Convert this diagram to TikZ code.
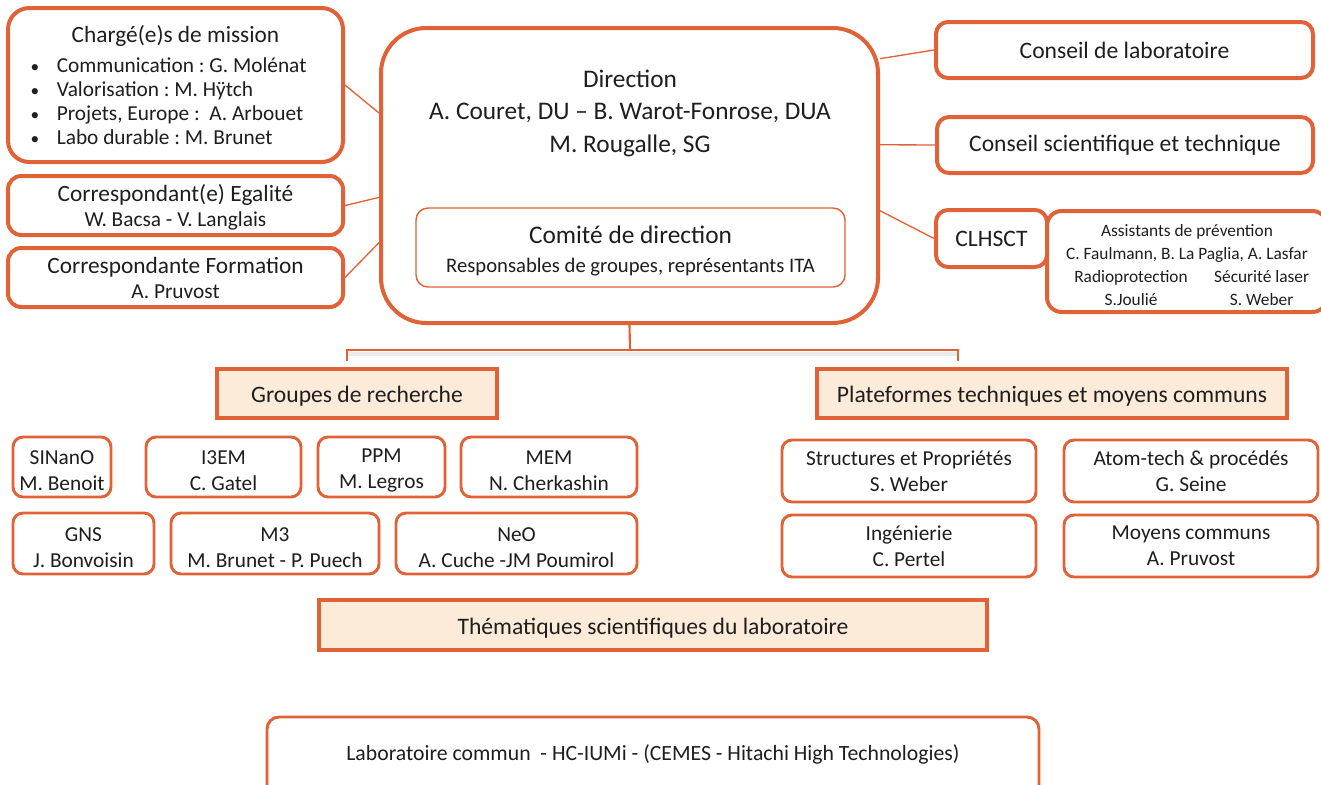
\documentclass[tikz,border=0pt]{standalone}
\usepackage{fontspec}
\setmainfont{Carlito}
\definecolor{orng}{RGB}{224,98,54}
\definecolor{peach}{RGB}{253,235,217}
\definecolor{txt}{RGB}{30,30,30}
\frenchspacing
\newcommand{\fsz}[2]{\fontsize{#1}{#2}\selectfont}
\newcommand{\bl}[1]{\makebox[218pt][l]{\makebox[7pt][c]{\fsz{13}{18}\textbullet}\hspace{13pt}#1}}
\newcommand{\lft}[1]{\rule{0pt}{#1}}
\tikzset{
  obox/.style={draw=orng, line width=3pt, fill=white, align=center, inner sep=0pt, text=txt},
  gbox/.style={draw=orng, line width=2.2pt, rounded corners=7.5pt, fill=white, align=center, inner sep=0pt, text=txt, font=\fsz{16}{19.5}},
  hbox/.style={draw=orng, line width=3pt, fill=peach, align=center, inner sep=0pt, text=txt, font=\fsz{17.7}{20}, text height=15.5pt, text depth=2pt},
  conn/.style={draw=orng, line width=1pt},
  tree/.style={draw=orng, line width=1.6pt},
}
\begin{document}
\begin{tikzpicture}[x=0.75pt,y=-0.75pt]
\useasboundingbox (0,0) rectangle (1321,785);
\clip (0,0) rectangle (1321,785);

% left boxes
\node[obox, rounded corners=16pt, minimum width={335*0.75pt}, minimum height={154*0.75pt}, font=\fsz{16}{18}] (charge) at (175.5,85)
  {{\fsz{17.5}{18}Chargé(e)s de mission}\\[4pt]
   \bl{Communication : G. Molénat}\\
   \bl{Valorisation : M. Hÿtch}\\
   \bl{Projets, Europe :\ \ A. Arbouet}\\
   \bl{Labo durable : M. Brunet}};
\node[obox, rounded corners=10pt, minimum width={335*0.75pt}, minimum height={59*0.75pt}, font=\fsz{17.5}{18.75}] (egal) at (175.5,205.5)
  {\lft{15pt}Correspondant(e) Egalité\\{\fsz{16}{18.75}W. Bacsa - V. Langlais}};
\node[obox, rounded corners=10pt, minimum width={335*0.75pt}, minimum height={59*0.75pt}, font=\fsz{17.5}{18.75}] (form) at (175.5,277.5)
  {Correspondante Formation\\{\fsz{16}{18.75}A. Pruvost}};

% direction
\node[obox, rounded corners=34pt, minimum width={497*0.75pt}, minimum height={295*0.75pt}] (dir) at (629.5,175.5) {};
\node[align=center, text=txt, font=\fsz{19}{24.4}, inner sep=0pt] (dirtxt) at (630,113)
  {Direction\\A. Couret, DU -- B. Warot-Fonrose, DUA\\M. Rougalle, SG};
\node[obox, line width=1.1pt, rounded corners=9pt, minimum width={429*0.75pt}, minimum height={79*0.75pt}, font=\fsz{19}{21.75}] (comite) at (630.5,247.5)
  {\lft{19pt}Comité de direction\\{\fsz{15.5}{21.75}Responsables de groupes, représentants ITA}};

% right boxes
\node[obox, rounded corners=9pt, minimum width={377*0.75pt}, minimum height={56*0.75pt}, font=\fsz{17.7}{20}] (cl) at (1124.5,50) {Conseil de laboratoire};
\node[obox, rounded corners=9pt, minimum width={376*0.75pt}, minimum height={56*0.75pt}, font=\fsz{17.7}{20}] (cst) at (1125,145) {Conseil scientifique et technique};
\node[obox, rounded corners=9pt, minimum width={111*0.75pt}, minimum height={57*0.75pt}, font=\fsz{17.7}{20}] (clhsct) at (991.5,238.5) {CLHSCT};
\node[obox, rounded corners=11pt, minimum width={266*0.75pt}, minimum height={101*0.75pt}, font=\fsz{13}{17.3}] (assist) at (1187,261.5)
  {\lft{14pt}Assistants de prévention\\C. Faulmann, B. La Paglia, A. Lasfar\\
   \hspace*{14pt}\makebox[98pt]{Radioprotection}\makebox[98pt]{Sécurité laser}\\
   \hspace*{14pt}\makebox[98pt]{S.Joulié}\makebox[98pt]{S. Weber}};

% connectors
\draw[conn] (charge.east) -- (dir.166);
\draw[conn] (egal.east) -- (dir.185);
\draw[conn] (form.east) -- (dir.195);
\draw[conn] (dir.25) -- (cl.west);
\draw[conn] (dir.7) -- (cst.west);
\draw[conn] (dir.352) -- (clhsct.west);

% tree
\coordinate (tj) at (630,350);
\coordinate (tl) at (347,350);
\coordinate (tr) at (958,350);
\coordinate (tle) at (347,361);
\coordinate (tre) at (958,361);
\draw[line width=3pt, black!8] ([yshift=-3pt]tl) -- ([yshift=-3pt]tr);
\draw[tree] (dir.south) -- (tj);
\draw[tree] (tle) -- (tl) -- (tr) -- (tre);

% headers
\node[hbox, minimum width={280*0.75pt}, minimum height={49*0.75pt}] (groupes) at (357,393.5) {Groupes de recherche};
\node[hbox, minimum width={470*0.75pt}, minimum height={49*0.75pt}] (plat) at (1052,393.5) {Plateformes techniques et moyens communs};

% research groups
\node[gbox, minimum width={98*0.75pt}, minimum height={60*0.75pt}] (sinano) at (62,467) {\lft{16pt}SINanO\\M. Benoit};
\node[gbox, minimum width={155*0.75pt}, minimum height={60*0.75pt}] (i3em) at (223.5,467) {\lft{16pt}I3EM\\C. Gatel};
\node[gbox, minimum width={127*0.75pt}, minimum height={60*0.75pt}] (ppm) at (381.5,467) {\lft{16pt}PPM\\M. Legros};
\node[gbox, minimum width={176*0.75pt}, minimum height={60*0.75pt}] (mem) at (549,467) {\lft{16pt}MEM\\N. Cherkashin};
\node[gbox, minimum width={141*0.75pt}, minimum height={61*0.75pt}] (gns) at (83.5,543.5) {\lft{16pt}GNS\\J. Bonvoisin};
\node[gbox, minimum width={208*0.75pt}, minimum height={61*0.75pt}] (m3) at (275,543.5) {\lft{16pt}M3\\M. Brunet - P. Puech};
\node[gbox, minimum width={241*0.75pt}, minimum height={61*0.75pt}] (neo) at (516.5,543.5) {\lft{16pt}NeO\\A. Cuche -JM Poumirol};

% platforms
\node[gbox, minimum width={254*0.75pt}, minimum height={62*0.75pt}] (struct) at (909,471) {Structures et Propriétés\\S. Weber};
\node[gbox, minimum width={254*0.75pt}, minimum height={62*0.75pt}] (atom) at (1191,471) {Atom-tech \& procédés\\G. Seine};
\node[gbox, minimum width={254*0.75pt}, minimum height={62*0.75pt}] (inge) at (909,546) {Ingénierie\\C. Pertel};
\node[gbox, minimum width={254*0.75pt}, minimum height={62*0.75pt}] (moy) at (1191,546) {Moyens communs\\A. Pruvost};

% thematiques
\node[hbox, minimum width={668*0.75pt}, minimum height={50*0.75pt}] (them) at (653,625) {Thématiques scientifiques du laboratoire};

% laboratoire commun
\draw[draw=orng, line width=2.2pt, rounded corners=9pt] (267,717) rectangle (1039,805);
\node[text=txt, font=\fsz{16.3}{20}, inner sep=0pt] (labo) at (653,754) {Laboratoire commun\ \ - HC-IUMi - (CEMES - Hitachi High Technologies)};
\end{tikzpicture}
\end{document}
